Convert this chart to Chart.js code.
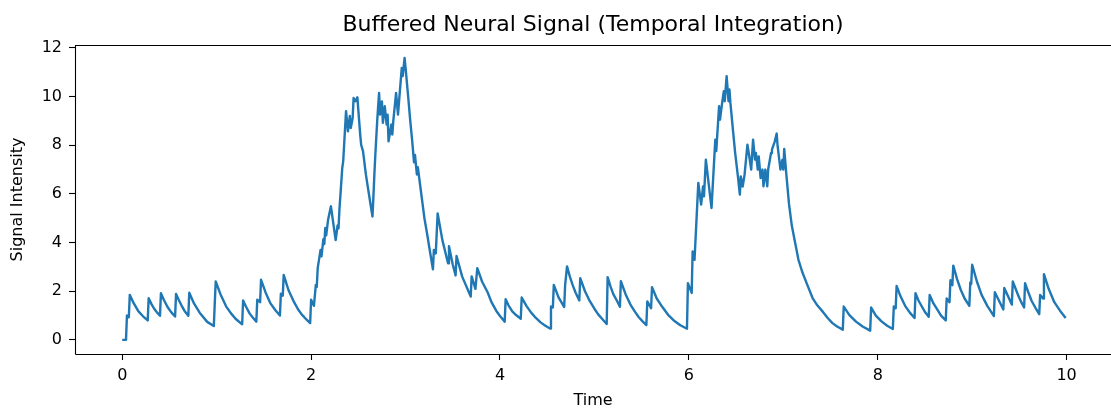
<!DOCTYPE html>
<html>
<head>
<meta charset="utf-8">
<script src="https://cdn.jsdelivr.net/npm/chart.js@4.4.1/dist/chart.umd.min.js"></script>
<style>
  html, body { margin: 0; padding: 0; background: #ffffff; }
  #wrap { width: 1111px; height: 410px; position: relative; }
</style>
</head>
<body>
<div id="wrap"><canvas id="c" width="1111" height="410"></canvas></div>
<script>
const chartTitle = "Buffered Neural Signal (Temporal Integration)";
const xAxisLabel = "Time";
const yAxisLabel = "Signal Intensity";

const times = [
  0, 0.04, 0.05, 0.07, 0.08, 0.12, 0.17, 0.22, 0.27, 0.28, 0.31, 0.34, 0.37, 0.40, 0.41, 0.44, 0.48, 0.52, 0.56,
  0.57, 0.60, 0.63, 0.66, 0.70, 0.71, 0.76, 0.82, 0.90, 0.97, 0.98, 0.99, 1.04, 1.10, 1.15, 1.20, 1.27, 1.28, 1.31,
  1.35, 1.38, 1.42, 1.43, 1.46, 1.47, 1.52, 1.57, 1.62, 1.67, 1.68, 1.70, 1.71, 1.76, 1.82, 1.86, 1.90, 1.95, 1.99,
  2.00, 2.03, 2.05, 2.06, 2.07, 2.10, 2.11, 2.13, 2.14, 2.15, 2.16, 2.18, 2.21, 2.26, 2.28, 2.29, 2.30, 2.33, 2.34,
  2.37, 2.39, 2.41, 2.42, 2.44, 2.45, 2.47, 2.49, 2.52, 2.53, 2.55, 2.58, 2.60, 2.62, 2.65, 2.66, 2.67, 2.68, 2.69,
  2.70, 2.71, 2.72, 2.73, 2.75, 2.76, 2.78, 2.80, 2.81, 2.82, 2.85, 2.86, 2.87, 2.90, 2.92, 2.96, 2.97, 2.99, 3.00,
  3.03, 3.05, 3.07, 3.09, 3.10, 3.12, 3.13, 3.15, 3.18, 3.20, 3.23, 3.26, 3.29, 3.30, 3.32, 3.34, 3.39, 3.45, 3.46,
  3.50, 3.53, 3.54, 3.60, 3.69, 3.70, 3.74, 3.76, 3.81, 3.87, 3.91, 3.96, 4.00, 4.05, 4.06, 4.09, 4.13, 4.17, 4.22,
  4.23, 4.28, 4.33, 4.38, 4.43, 4.48, 4.53, 4.54, 4.56, 4.57, 4.62, 4.65, 4.68, 4.69, 4.71, 4.74, 4.77, 4.80, 4.84,
  4.85, 4.90, 4.95, 5.00, 5.04, 5.09, 5.13, 5.14, 5.17, 5.20, 5.24, 5.27, 5.28, 5.33, 5.38, 5.43, 5.47, 5.51, 5.55,
  5.56, 5.60, 5.61, 5.66, 5.72, 5.78, 5.84, 5.91, 5.98, 5.99, 6.03, 6.04, 6.06, 6.10, 6.13, 6.15, 6.16, 6.18, 6.24,
  6.28, 6.29, 6.32, 6.33, 6.35, 6.37, 6.38, 6.40, 6.42, 6.43, 6.44, 6.47, 6.49, 6.52, 6.54, 6.55, 6.57, 6.59, 6.62,
  6.64, 6.66, 6.68, 6.70, 6.71, 6.73, 6.74, 6.76, 6.78, 6.79, 6.81, 6.83, 6.84, 6.87, 6.88, 6.91, 6.93, 6.94, 6.97,
  6.99, 7.00, 7.01, 7.03, 7.06, 7.09, 7.13, 7.16, 7.20, 7.25, 7.31, 7.36, 7.42, 7.47, 7.52, 7.57, 7.63, 7.64, 7.70,
  7.77, 7.84, 7.92, 7.93, 7.98, 8.04, 8.10, 8.16, 8.17, 8.19, 8.20, 8.24, 8.29, 8.34, 8.39, 8.40, 8.43, 8.47, 8.50,
  8.54, 8.55, 8.59, 8.63, 8.67, 8.72, 8.73, 8.76, 8.77, 8.79, 8.80, 8.84, 8.88, 8.92, 8.97, 8.98, 8.99, 9.00, 9.05,
  9.10, 9.16, 9.23, 9.24, 9.33, 9.34, 9.42, 9.43, 9.46, 9.49, 9.52, 9.55, 9.56, 9.59, 9.63, 9.67, 9.71, 9.72, 9.75,
  9.76, 9.81, 9.87, 9.93, 9.99
];

const signal = [
  0, 0, 1.00, 0.93, 1.85, 1.52, 1.18, 0.97, 0.80, 1.71, 1.47, 1.27, 1.12, 0.99, 1.92, 1.65, 1.35, 1.13, 0.96,
  1.89, 1.63, 1.40, 1.19, 0.99, 1.94, 1.50, 1.12, 0.74, 0.57, 1.51, 2.40, 1.88, 1.38, 1.10, 0.87, 0.64, 1.62, 1.37,
  1.08, 0.93, 0.75, 1.65, 1.55, 2.47, 1.93, 1.50, 1.23, 1.00, 1.90, 1.82, 2.67, 2.05, 1.55, 1.27, 1.05, 0.84, 0.69,
  1.65, 1.40, 2.26, 2.18, 2.95, 3.70, 3.43, 4.14, 3.94, 4.60, 4.30, 4.94, 5.49, 4.10, 4.70, 4.58, 5.35, 7.07, 7.34,
  9.40, 8.57, 9.20, 8.71, 9.12, 9.94, 9.81, 9.97, 8.44, 8.02, 7.75, 6.80, 6.30, 5.80, 5.07, 5.90, 6.80, 7.60, 8.30,
  9.00, 9.60, 10.15, 9.26, 9.80, 8.92, 9.60, 8.85, 9.26, 8.16, 8.85, 8.44, 8.98, 10.15, 9.26, 11.18, 10.84, 11.59, 11.20,
  9.90, 9.00, 8.20, 7.30, 7.60, 6.80, 7.10, 6.50, 5.60, 5.00, 4.32, 3.60, 2.90, 3.70, 3.55, 5.20, 4.10, 3.15, 3.85,
  3.10, 2.65, 3.45, 2.60, 1.78, 2.61, 2.10, 2.95, 2.40, 1.95, 1.55, 1.20, 0.98, 0.75, 1.67, 1.42, 1.17, 1.02, 0.87,
  1.74, 1.40, 1.12, 0.90, 0.72, 0.58, 0.47, 1.37, 1.33, 2.26, 1.75, 1.55, 1.35, 2.26, 3.02, 2.60, 2.25, 1.95, 1.62,
  2.54, 2.00, 1.60, 1.28, 1.05, 0.83, 0.65, 2.58, 2.20, 1.88, 1.60, 1.36, 2.41, 1.88, 1.46, 1.15, 0.93, 0.76, 0.61,
  1.58, 1.30, 2.17, 1.70, 1.35, 1.03, 0.80, 0.60, 0.46, 2.33, 1.93, 3.63, 3.29, 6.45, 5.56, 6.31, 5.90, 7.41, 5.42,
  8.23, 7.76, 9.60, 9.05, 9.67, 10.22, 9.81, 10.84, 9.81, 10.29, 9.74, 8.50, 7.70, 6.70, 5.97, 6.72, 6.30, 6.79, 8.02,
  7.54, 7.00, 8.23, 7.41, 7.68, 7.00, 7.54, 6.65, 7.00, 6.31, 7.00, 6.31, 7.00, 7.68, 7.82, 8.16, 8.48, 7.96, 7.00,
  7.40, 7.00, 7.85, 6.90, 5.60, 4.70, 3.90, 3.30, 2.80, 2.30, 1.72, 1.42, 1.15, 0.90, 0.69, 0.55, 0.42, 1.37, 1.02,
  0.75, 0.55, 0.38, 1.33, 1.00, 0.76, 0.58, 0.45, 1.37, 1.30, 2.22, 1.80, 1.40, 1.12, 0.90, 1.92, 1.63, 1.35, 1.15,
  0.95, 1.85, 1.50, 1.25, 1.00, 0.80, 1.70, 1.55, 2.45, 2.25, 3.05, 2.50, 2.05, 1.70, 1.40, 2.36, 2.30, 3.09, 2.40,
  1.85, 1.40, 0.98, 1.96, 1.25, 2.13, 1.45, 2.40, 2.10, 1.80, 1.55, 1.33, 2.33, 2.00, 1.60, 1.32, 1.06, 1.85, 1.70,
  2.70, 2.10, 1.55, 1.20, 0.90
];

const xTickValues = [0, 2, 4, 6, 8, 10];
const yTickValues = [0, 2, 4, 6, 8, 10, 12];

const points = times.map((t, i) => ({ x: t, y: signal[i] }));

const FONT = "'DejaVu Sans', 'Liberation Sans', sans-serif";

const framePlugin = {
  id: 'frame',
  afterDatasetsDraw(chart) {
    const { ctx, chartArea: a } = chart;
    ctx.save();
    ctx.strokeStyle = '#000';
    ctx.lineWidth = 1.1;
    const l = Math.round(a.left) + 0.5, r = Math.round(a.right) + 0.5;
    const t = Math.round(a.top) + 0.5, b = Math.round(a.bottom) + 0.5;
    ctx.beginPath();
    ctx.moveTo(l, b); ctx.lineTo(l, t); ctx.lineTo(r, t);
    ctx.moveTo(l, b); ctx.lineTo(r, b);
    ctx.stroke();
    ctx.restore();
  }
};

new Chart(document.getElementById('c'), {
  type: 'line',
  data: {
    datasets: [{
      data: points,
      borderColor: '#1f77b4',
      borderWidth: 2.4,
      pointRadius: 0,
      pointHoverRadius: 0,
      tension: 0,
      fill: false,
      borderJoinStyle: 'round',
      borderCapStyle: 'butt'
    }]
  },
  options: {
    responsive: false,
    animation: false,
    events: [],
    layout: { padding: { left: 0, right: 0, top: 0, bottom: 0 } },
    plugins: {
      legend: { display: false },
      tooltip: { enabled: false },
      title: {
        display: true,
        text: chartTitle,
        fullSize: false,
        color: '#000',
        font: { family: FONT, size: 22, weight: 'normal', lineHeight: 1.2 },
        padding: { top: 11.8, bottom: 6.8 }
      }
    },
    scales: {
      x: {
        type: 'linear',
        min: -0.5,
        max: 10.47,
        afterFit(scale) { scale.height = 56; },
        afterBuildTicks(scale) { scale.ticks = xTickValues.map(v => ({ value: v })); },
        grid: { display: true, drawOnChartArea: false, drawTicks: true, tickLength: 6, tickColor: '#000', tickWidth: 1.1 },
        border: { display: false },
        ticks: {
          color: '#000',
          padding: 6,
          maxRotation: 0,
          autoSkip: false,
          font: { family: FONT, size: 16 },
          callback: (v) => String(v)
        },
        title: {
          display: true,
          text: xAxisLabel,
          color: '#000',
          font: { family: FONT, size: 16, lineHeight: 1.1 },
          padding: { top: 0, bottom: 0 }
        }
      },
      y: {
        type: 'linear',
        min: -0.58,
        max: 12.12,
        afterFit(scale) { scale.width = 75; },
        afterBuildTicks(scale) { scale.ticks = yTickValues.map(v => ({ value: v })); },
        grid: { display: true, drawOnChartArea: false, drawTicks: true, tickLength: 6, tickColor: '#000', tickWidth: 1.1 },
        border: { display: false },
        ticks: {
          color: '#000',
          padding: 7,
          autoSkip: false,
          font: { family: FONT, size: 16 },
          callback: (v) => String(v)
        },
        title: {
          display: true,
          text: yAxisLabel,
          color: '#000',
          font: { family: FONT, size: 16, lineHeight: 1.2 },
          padding: { top: 8.4, bottom: 0 }
        }
      }
    }
  },
  plugins: [framePlugin]
});
</script>
</body>
</html>
